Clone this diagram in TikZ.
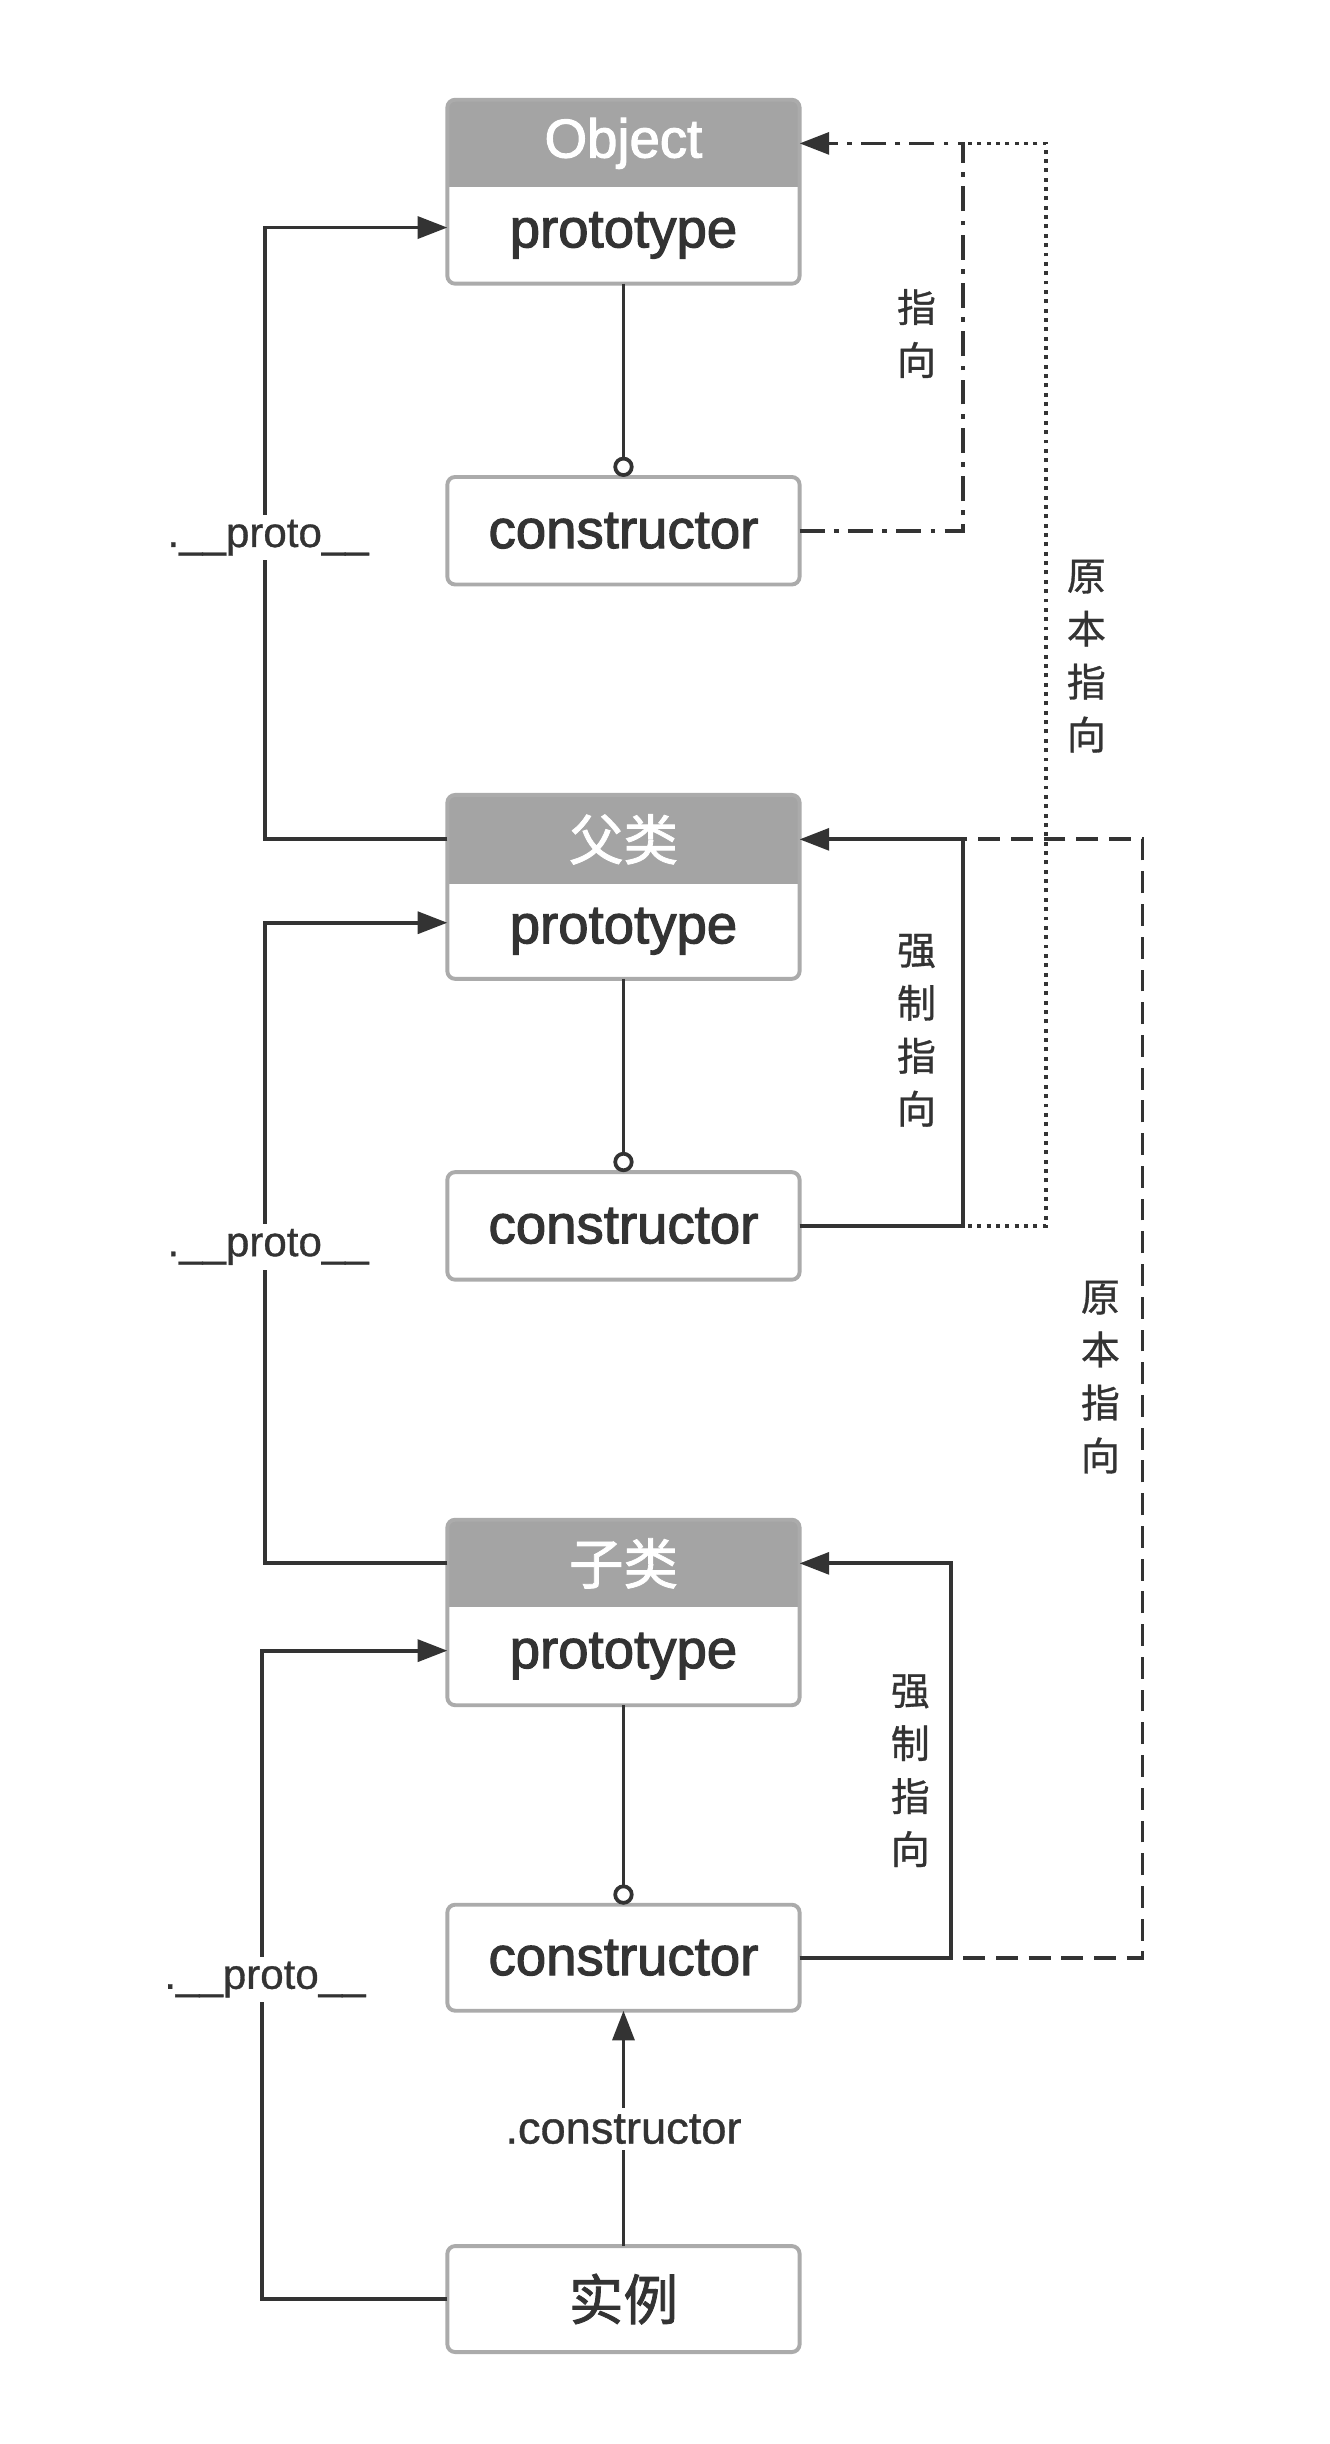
\documentclass[tikz,border=0pt]{standalone}
\usepackage{fontspec}
\setmainfont{Liberation Sans}
\newfontfamily\boxfont{Liberation Sans}[FakeBold=2]
\newfontfamily\lblfont{Liberation Sans}[FakeBold=0.8]
\newfontfamily\cjk{Noto Sans CJK SC}[FakeBold=0.8]
\newfontfamily\cjkbox{Noto Sans CJK SC}[FakeBold=1.5]
\usetikzlibrary{arrows.meta,backgrounds,calc}
\definecolor{ink}{HTML}{333333}
\definecolor{hdrgray}{HTML}{A4A4A4}
\definecolor{bordergray}{HTML}{ABABAB}
\newcommand\classframe[2]{%
  \fill[white, rounded corners=5pt] (#1.north west) rectangle (#2.south east);
  \begin{scope}
    \clip[rounded corners=5pt] (#1.north west) rectangle (#2.south east);
    \fill[hdrgray] (#1.north west) rectangle (#1.south east);
  \end{scope}
  \draw[bordergray, line width=2.5pt, rounded corners=5pt] (#1.north west) rectangle (#2.south east);
}
\begin{document}
\begin{tikzpicture}[x=1pt,y=-1pt,
  boxtxt/.style={inner sep=0pt, outer sep=0pt, minimum width=226pt, text=ink,
    font=\boxfont\fontsize{35}{40}\selectfont},
  hdrtxt/.style={boxtxt, text=white},
  plainbox/.style={boxtxt, draw=bordergray, line width=2.5pt, fill=white, rounded corners=5pt, minimum height=69pt},
  conn/.style={draw=ink, line width=2.4pt},
  tri/.style={-{Triangle[length=19pt,width=14pt]}},
  ring/.style={-{Circle[open,length=13pt,width=13pt,line width=2.4pt]}},
  dashline/.style={dash pattern=on 14pt off 7pt},
  dashdotline/.style={dash pattern=on 16pt off 6pt on 3pt off 6pt},
  dotline/.style={dash pattern=on 2.5pt off 3.5pt},
  protolbl/.style={fill=white, inner sep=3pt, text=ink, font=\lblfont\fontsize{27}{30}\selectfont},
  ctorlbl/.style={fill=white, inner sep=4pt, text=ink, font=\lblfont\fontsize{29}{32}\selectfont},
  vlbl/.style={align=center, inner sep=0pt, text=ink, font=\cjk\fontsize{25}{34}\selectfont}
]
\useasboundingbox (0,0) rectangle (853,1568);

% ---- boxes ----
\node[hdrtxt, minimum height=56pt] (objH) at (400,92) {Object};
\node[boxtxt, minimum height=62pt] (objP) at (400,151) {prototype};
\node[plainbox] (c1) at (400,340.5) {constructor};

\node[hdrtxt, minimum height=57pt] (fH) at (400,538.5) {\cjkbox 父类};
\node[boxtxt, minimum height=61pt] (fP) at (400,597.5) {prototype};
\node[plainbox] (c2) at (400,786.5) {constructor};

\node[hdrtxt, minimum height=56pt] (zH) at (400,1003) {\cjkbox 子类};
\node[boxtxt, minimum height=63pt] (zP) at (400,1062.5) {prototype};
\node[plainbox, minimum height=68pt] (c3) at (400,1256) {constructor};

\node[plainbox, minimum height=68pt] (inst) at (400,1475) {\cjkbox 实例};

\begin{scope}[on background layer]
  \fill[white] (0,0) rectangle (853,1568);
  \classframe{objH}{objP}
  \classframe{fH}{fP}
  \classframe{zH}{zP}
\end{scope}

% ---- bend coordinates ----
\coordinate (k1) at (618,92);
\coordinate (kd) at (671,92);
\coordinate (k5) at (618,538.5);
\coordinate (k6) at (733,538.5);
\coordinate (k7) at (610,1003);
\coordinate (k2) at (170,146);
\coordinate (k3) at (170,592);
\coordinate (k4) at (168,1059);

% ---- prototype -> constructor ----
\draw[conn, ring] (objP.south) -- (c1.north);
\draw[conn, ring] (fP.south) -- (c2.north);
\draw[conn, ring] (zP.south) -- (c3.north);

% ---- right side ----
\draw[conn, dotline] (c2.east) -| (kd) -- (k1);
\draw[conn, dashdotline, tri] (c1.east) -| (k1) -- (objH.east);
\draw[conn, dashline] (c3.east) -| (k6) -- (k5);
\draw[conn, tri] (c2.east) -| (k5) -- (fH.east);
\draw[conn, tri] (c3.east) -| (k7) -- (zH.east);

% ---- left side ----
\draw[conn, tri] (fH.west) -| (k2) -- (k2 -| objP.west);
\draw[conn, tri] (zH.west) -| (k3) -- (k3 -| fP.west);
\draw[conn, tri] (inst.west) -| (k4) -- (k4 -| zP.west);

% ---- instance -> constructor ----
\draw[conn, tri] (inst.north) -- (c3.south);

% ---- labels ----
\node[protolbl] (p1) at (172,345) {.\_\_proto\_\_};
\node[protolbl] (p2) at (172,800) {.\_\_proto\_\_};
\node[protolbl] (p3) at (170,1270) {.\_\_proto\_\_};
\node[ctorlbl] (cl) at (400,1366) {.constructor};

\node[vlbl] (v1) at (588,214) {指\\向};
\node[vlbl] (v2) at (697,421) {原\\本\\指\\向};
\node[vlbl] (v3) at (588,661) {强\\制\\指\\向};
\node[vlbl] (v4) at (706,883.5) {原\\本\\指\\向};
\node[vlbl] (v5) at (584,1136) {强\\制\\指\\向};
\end{tikzpicture}
\end{document}
